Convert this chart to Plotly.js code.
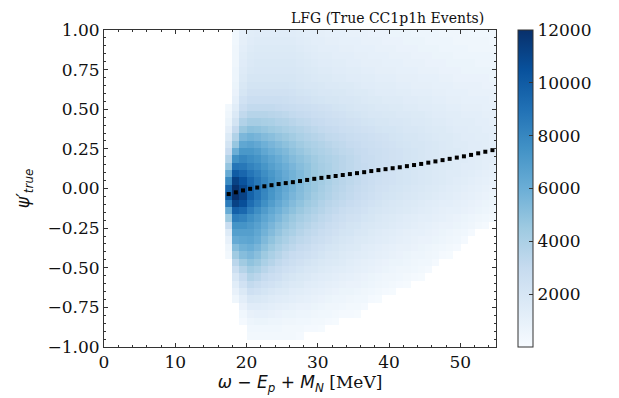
<!DOCTYPE html>
<html>
<head>
<meta charset="utf-8">
<script src="https://cdn.plot.ly/plotly-3.0.1.min.js"></script>
<style>html,body{margin:0;padding:0;background:#fff;}#chart{width:619px;height:398px;}</style>
</head>
<body>
<div id="chart"></div>
<script>
const _ = null;
// 2D histogram counts (in hundreds of events). One array per x bin (17-18 ... 54-55 MeV),
// each listing 43 y bins from -1 (bottom) to +1 (top). null = empty bin.
const xBinWidth = 1;      // MeV
const xFirstCenter = 17.5;
const yBinWidth = 2 / 43;
const yFirstCenter = -1 + 1 / 43;

const col17 = [_,_,_,_,_,_,_,_,_,_,_,_, 3,5,9,15,28, 45,62,85,100,95, 78,62,48,38,29, 22,16,11,7,5, 3, _,_,_,_,_,_,_,_,_,_];
const col18 = [_,_,_,_,_,_, 5,9,13,19,26, 34,44,52,62,68, 74,84,98,112,120, 119,112,100,88,75, 60,47,38,30,22, 17,13,10,8,7, 6,6,5,5,5, 4,4];
const col19 = [_,_,_, 2,4,8,12,17, 23,29,36,44,52, 58,64,68,74,82, 94,106,112,110,104, 95,87,80,72,64, 55,46,38,32,27, 23,20,18,16,15, 14,13,12,11,10];
const col20 = [_, 3,4,6,9,14, 19,25,31,37,43, 49,55,60,65,68, 71,76,84,92,97, 97,94,88,82,77, 72,66,58,50,42, 36,31,27,24,22, 20,18,17,16,15, 14,13];
const col21 = [_, 3,4,7,10,14, 18,23,28,34,40, 46,51,56,61,64, 67,71,77,84,88, 88,87,83,78,74, 69,63,56,49,42, 36,31,27,24,22, 20,19,18,17,16, 15,14];
const col22 = [_, 3,4,7,10,13, 17,21,25,30,35, 40,45,50,54,58, 61,65,70,76,80, 81,80,77,73,69, 64,59,53,47,41, 36,31,27,24,22, 20,19,18,17,16, 15,14];
const col23 = [_, 3,4,6,9,12, 15,19,23,27,31, 36,40,45,49,53, 56,60,64,69,73, 74,74,72,68,65, 60,56,51,45,40, 35,31,27,24,22, 20,19,18,17,16, 15,14];
const col24 = [_, 3,4,6,8,11, 14,17,21,25,28, 32,36,40,44,48, 51,55,59,63,67, 68,68,67,64,61, 57,53,48,43,38, 34,30,27,24,22, 20,19,18,17,16, 15,14];
const col25 = [_, 3,3,5,7,10, 13,16,19,22,25, 29,32,36,40,43, 47,50,54,58,61, 63,63,62,60,57, 54,50,46,41,37, 33,29,26,24,22, 20,19,18,17,16, 15,14];
const col26 = [_, 3,3,5,7,9, 12,14,17,20,23, 26,29,33,36,40, 43,46,50,53,56, 58,58,58,56,53, 50,47,43,39,35, 31,28,25,23,21, 20,19,18,17,16, 15,14];
const col27 = [_, 2,3,4,6,8, 11,13,16,18,21, 24,27,30,33,36, 39,42,46,49,52, 53,54,54,52,50, 47,44,40,37,33, 30,27,24,22,20, 19,18,17,16,15, 14,13];
const col28 = [_,_, 2,4,6,8,10, 12,14,17,19,22, 25,28,31,33,36, 39,42,45,48,49, 50,50,49,47,44, 41,38,35,32,29, 26,23,21,19,18, 17,16,15,14,13, 12];
const col29 = [_,_, 2,3,5,7,9, 11,13,15,18,20, 23,25,28,31,33, 36,39,42,44,46, 46,46,45,44,41, 39,36,33,30,27, 25,22,20,19,17, 16,15,14,13,12, 12];
const col30 = [_,_, 1,3,4,6,8, 10,12,14,16,18, 21,23,26,28,31, 33,36,38,41,42, 43,43,42,41,39, 37,34,31,29,26, 24,21,19,18,16, 15,14,13,12,12, 11];
const col31 = [_,_,_, 2,4,5,7,9, 11,13,15,17,19, 21,24,26,28,31, 33,35,38,39,40, 40,40,39,37,35, 32,30,27,25,23, 20,19,17,16,15, 14,13,12,11,10];
const col32 = [_,_,_, 1,3,5,6,8, 10,12,14,16,18, 20,22,24,26,28, 31,33,35,36,37, 38,37,37,35,33, 31,29,26,24,22, 20,18,17,15,14, 13,12,12,11,10];
const col33 = [_,_,_,_, 2,4,6,7,9, 11,13,15,16,18, 20,22,24,26,28, 31,33,34,35,35, 35,35,33,32,30, 27,25,23,21,19, 18,16,15,14,13, 12,11,10,10];
const col34 = [_,_,_,_, 2,3,5,7,8, 10,12,13,15,17, 19,21,22,24,26, 29,31,32,33,33, 33,33,32,30,28, 26,24,22,20,19, 17,16,14,13,12, 12,11,10,9];
const col35 = [_,_,_,_, 1,3,4,6,8, 9,11,12,14,16, 17,19,21,23,25, 27,29,30,31,31, 31,31,30,29,27, 25,23,21,19,18, 16,15,14,13,12, 11,10,10,9];
const col36 = [_,_,_,_,_, 2,4,5,7,8, 10,11,13,14,16, 18,19,21,23,25, 27,28,29,29,30, 29,29,27,26,24, 22,20,19,17,16, 14,13,12,11,11, 10,9,9];
const col37 = [_,_,_,_,_,_, 2,4,6,7,9, 10,12,13,15,16, 18,20,21,23,25, 26,27,27,28,28, 27,26,25,23,21, 19,18,16,15,14, 13,12,11,10,10, 9,8];
const col38 = [_,_,_,_,_,_, 1,3,5,6,8, 9,11,12,14,15, 17,18,20,22,23, 24,25,26,26,26, 26,25,24,22,20, 19,17,16,14,13, 12,11,11,10,9, 9,8];
const col39 = [_,_,_,_,_,_,_, 2,4,5,7,8, 10,11,13,14,16, 17,19,20,22,23, 24,24,25,25,25, 24,23,21,20,18, 17,15,14,13,12, 11,10,10,9,8, 8];
const col40 = [_,_,_,_,_,_,_, 1,3,5,6,7, 9,10,12,13,15, 16,18,19,21,22, 23,23,24,24,24, 23,22,21,19,18, 16,15,14,13,12, 11,10,9,9,8, 7];
const col41 = [_,_,_,_,_,_,_,_, 2,4,5,7,8, 9,11,12,14,15, 17,18,20,21,22, 22,23,23,23,22, 21,20,19,17,16, 15,13,12,11,10, 10,9,8,8,7];
const col42 = [_,_,_,_,_,_,_,_, 1,3,5,6,7, 9,10,11,13,14, 16,17,19,20,21, 21,22,22,22,21, 20,19,18,17,15, 14,13,12,11,10, 9,9,8,7,7];
const col43 = [_,_,_,_,_,_,_,_,_, 2,4,5,6,8, 9,10,12,13,15, 16,18,19,20,20, 21,21,21,20,20, 19,17,16,15,14, 12,11,11,10,9, 8,8,7,6];
const col44 = [_,_,_,_,_,_,_,_,_, 1,3,4,6,7, 8,10,11,12,14, 15,17,18,19,19, 20,20,20,20,19, 18,17,16,14,13, 12,11,10,9,9, 8,7,7,6];
const col45 = [_,_,_,_,_,_,_,_,_,_, 2,4,5,6,8, 9,10,12,13,14, 16,17,18,18,19, 19,19,19,18,17, 16,15,14,13,12, 11,10,9,8,8, 7,6,6];
const col46 = [_,_,_,_,_,_,_,_,_,_,_, 2,4,5,7,8, 9,11,12,13,15, 16,17,17,18,18, 18,18,17,16,15, 14,13,12,11,10, 10,9,8,7,7, 6,6];
const col47 = [_,_,_,_,_,_,_,_,_,_,_,_, 2,4,6,7,8, 10,11,12,14,15, 16,16,17,17,17, 17,16,16,15,14, 13,12,11,10,9, 8,8,7,6,6, 5];
const col48 = [_,_,_,_,_,_,_,_,_,_,_,_, 1,3,5,6,8, 9,10,12,13,14, 15,15,16,16,16, 16,16,15,14,13, 12,11,10,10,9, 8,7,7,6,6, 5];
const col49 = [_,_,_,_,_,_,_,_,_,_,_,_,_, 2,4,5,7,8, 10,11,12,13,14, 15,15,15,16,15, 15,14,13,13,12, 11,10,9,8,8, 7,6,6,5,5];
const col50 = [_,_,_,_,_,_,_,_,_,_,_,_,_,_, 2,4,6,7,9, 10,11,12,13,14, 14,15,15,15,14, 14,13,12,11,10, 10,9,8,7,7, 6,6,5,5];
const col51 = [_,_,_,_,_,_,_,_,_,_,_,_,_,_,_, 2,5,6,8,9, 10,11,12,13,14, 14,14,14,14,13, 13,12,11,10,9, 9,8,7,7,6, 5,5,4];
const col52 = [_,_,_,_,_,_,_,_,_,_,_,_,_,_,_,_, 3,5,7,8,9, 10,11,12,13,13, 14,14,13,13,12, 12,11,10,9,9, 8,7,6,6,5, 5,4];
const col53 = [_,_,_,_,_,_,_,_,_,_,_,_,_,_,_,_, 2,4,6,7,8, 9,10,11,12,12, 13,13,13,12,12, 11,10,10,9,8, 8,7,6,6,5, 5,4];
const col54 = [_,_,_,_,_,_,_,_,_,_,_,_,_,_,_,_,_, 3,5,6,7,8, 9,10,11,12,12, 12,12,12,11,11, 10,9,9,8,7, 7,6,6,5,4, 4];

const histColumns = [col17,col18,col19,col20,col21,col22,col23,col24,col25,col26,col27,col28,col29,
  col30,col31,col32,col33,col34,col35,col36,col37,col38,col39,col40,col41,col42,col43,col44,col45,
  col46,col47,col48,col49,col50,col51,col52,col53,col54];
const countUnit = 100;

// Mean psi' per x bin (dotted profile)
const profileX = [17.5,18.5,19.5,20.5,21.5,22.5,23.5,24.5,25.5,26.5,27.5,28.5,29.5,30.5,31.5,32.5,33.5,34.5,35.5,36.5,37.5,38.5,39.5,40.5,41.5,42.5,43.5,44.5,45.5,46.5,47.5,48.5,49.5,50.5,51.5,52.5,53.5,54.5];
const profileY = [-0.035,-0.024,-0.012,-0.002,0.006,0.014,0.021,0.028,0.034,0.040,0.047,0.054,0.061,0.067,0.073,0.079,0.085,0.091,0.097,0.103,0.110,0.116,0.122,0.128,0.134,0.141,0.148,0.155,0.163,0.171,0.179,0.187,0.195,0.203,0.212,0.222,0.232,0.242];

const colorMin = 0, colorMax = 12000;
const cbLabelTicks = [2000, 4000, 6000, 8000, 10000, 12000];
const cbMinorStep = 500;

const z = histColumns.map(c => c.map(v => v === null ? null : v * countUnit));

const blues = [[0,'#f7fbff'],[0.125,'#deebf7'],[0.25,'#c6dbef'],[0.375,'#9ecae1'],[0.5,'#6baed6'],[0.625,'#4292c6'],[0.75,'#2171b5'],[0.875,'#08519c'],[1,'#08306b']];
const serif = 'DejaVu Serif, serif';
const sans = 'DejaVu Sans, sans-serif';
const cbBase = {
  x: 1.056, xanchor: 'left', xref: 'paper', xpad: 0, y: 0, yanchor: 'bottom', ypad: 0,
  len: 1, lenmode: 'fraction', thickness: 15, outlinewidth: 1, outlinecolor: '#333',
  tickcolor: '#333', tickwidth: 1, ticks: 'inside'
};

const heat = {
  type: 'heatmap', z: z, transpose: true,
  x0: xFirstCenter, dx: xBinWidth, y0: yFirstCenter, dy: yBinWidth,
  colorscale: blues, zmin: colorMin, zmax: colorMax, hoverongaps: false,
  colorbar: Object.assign({}, cbBase, {
    tickmode: 'array', tickvals: cbLabelTicks, tickformat: 'd', ticklen: 4,
    tickfont: {family: serif, size: 17, color: '#111'}
  })
};
// second (label-free) colour bar on top, only to draw the minor ticks
const minorBar = {
  type: 'heatmap', z: [[null]], colorscale: blues, zmin: colorMin, zmax: colorMax,
  hoverinfo: 'skip',
  colorbar: Object.assign({}, cbBase, {
    tickmode: 'linear', tick0: 0, dtick: cbMinorStep, ticklen: 2, showticklabels: false
  })
};
const dots = {
  type: 'scatter', mode: 'markers', x: profileX, y: profileY,
  marker: {symbol: 'square', size: 4, color: '#000'}, showlegend: false
};

const axisCommon = {
  showline: true, linecolor: '#333', linewidth: 1, mirror: 'ticks',
  ticks: 'inside', ticklen: 4, tickcolor: '#333', tickwidth: 1,
  showgrid: false, zeroline: false,
  tickfont: {family: serif, size: 17, color: '#111'}
};

const layout = {
  width: 619, height: 398,
  margin: {l: 104, r: 123, t: 30, b: 51},
  paper_bgcolor: '#fff', plot_bgcolor: '#fff',
  showlegend: false,
  xaxis: Object.assign({}, axisCommon, {
    range: [0, 55], tickvals: [0,10,20,30,40,50],
    minor: {dtick: 2, ticks: 'inside', ticklen: 2, tickcolor: '#333'},
    title: {text: '<i>ω</i> − <i>E</i><sub><i>p</i></sub> + <i>M</i><sub><i>N</i></sub> <span style="font-family:DejaVu Serif">[MeV]</span>',
            font: {family: sans, size: 17, color: '#111'}, standoff: 2}
  }),
  yaxis: Object.assign({}, axisCommon, {
    range: [-1, 1], tickvals: [-1,-0.75,-0.5,-0.25,0,0.25,0.5,0.75,1], tickformat: '.2f',
    minor: {dtick: 0.05, ticks: 'inside', ticklen: 2, tickcolor: '#333'},
    title: {text: '<i>ψ′</i><sub><i>true</i></sub>', font: {family: sans, size: 17, color: '#111'}, standoff: 13}
  }),
  annotations: [{
    text: 'LFG (True CC1p1h Events)', xref: 'paper', yref: 'paper', x: 0.975, y: 1.038,
    xanchor: 'right', yanchor: 'middle', showarrow: false,
    font: {family: serif, size: 14, color: '#111'}
  }]
};

Plotly.newPlot('chart', [heat, dots, minorBar], layout, {displayModeBar: false, staticPlot: true});
</script>
</body>
</html>
